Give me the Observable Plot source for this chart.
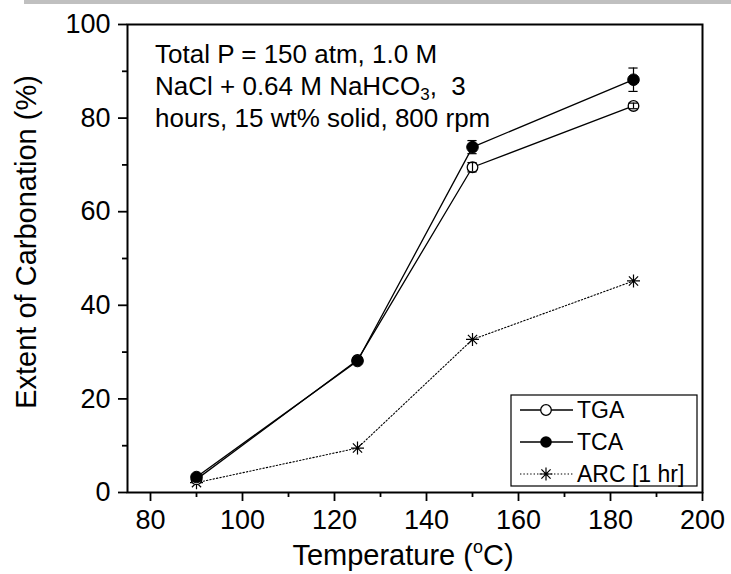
<!DOCTYPE html>
<html><head><meta charset="utf-8">
<script src="https://cdn.jsdelivr.net/npm/d3@7"></script>
<script src="https://cdn.jsdelivr.net/npm/@observablehq/plot@0.6"></script>
<style>
body{margin:0;background:#fff;}
#wrap{position:relative;width:731px;height:574px;overflow:hidden;background:#fff;font-family:"Liberation Sans",Arial,sans-serif;}
#wrap > svg{position:absolute;left:0;top:0;}
#bar{position:absolute;left:24px;top:0;width:707px;height:4px;background:#c0c0c0;}
</style></head>
<body><div id="wrap"><div id="bar"></div></div>
<script>
// ---- data ----
const temperature = [90, 125, 150, 185];
const tgaValues = [2.8, 28.3, 69.5, 82.6];
const tgaErrors = [0.3, 0.4, 1.0, 0.6];
const tcaValues = [3.3, 28.1, 73.8, 88.2];
const tcaErrors = [0.4, 0.5, 1.4, 2.5];
const arcValues = [2.1, 9.5, 32.7, 45.2];
const seriesNames = ["TGA", "TCA", "ARC [1 hr]"];
const xTicks = [80, 100, 120, 140, 160, 180, 200];
const xMinorTicks = [90, 110, 130, 150, 170, 190];
const yTicks = [0, 20, 40, 60, 80, 100];
const yMinorTicks = [10, 30, 50, 70, 90];
const noteLines = ["Total P = 150 atm, 1.0 M", "NaCl + 0.64 M NaHCO", "hours, 15 wt% solid, 800 rpm"];
const xTitle = "Temperature (";
const yTitle = "Extent of Carbonation (%)";

// ---- rows ----
const tga = temperature.map((t, i) => ({t, v: tgaValues[i], e: tgaErrors[i]}));
const tca = temperature.map((t, i) => ({t, v: tcaValues[i], e: tcaErrors[i]}));
const arc = temperature.map((t, i) => ({t, v: arcValues[i]}));

const asterisk = {
  draw(ctx, size) {
    const r = Math.sqrt(size / Math.PI);
    const d = r * Math.SQRT1_2;
    ctx.moveTo(0, -r); ctx.lineTo(0, r);
    ctx.moveTo(-r, 0); ctx.lineTo(r, 0);
    ctx.moveTo(-d, -d); ctx.lineTo(d, d);
    ctx.moveTo(-d, d); ctx.lineTo(d, -d);
  }
};

const errMarks = (data) => [
  Plot.ruleX(data, {x: "t", y1: d => d.v - d.e, y2: d => d.v + d.e, stroke: "#000", strokeWidth: 1.2}),
  Plot.ruleY(data, {y: d => d.v + d.e, x1: d => d.t - 1, x2: d => d.t + 1, stroke: "#000", strokeWidth: 1.2}),
  Plot.ruleY(data, {y: d => d.v - d.e, x1: d => d.t - 1, x2: d => d.t + 1, stroke: "#000", strokeWidth: 1.2})
];

const plot = Plot.plot({
  width: 731, height: 574,
  marginLeft: 127, marginRight: 29, marginTop: 24, marginBottom: 82,
  x: {domain: [75, 200]},
  y: {domain: [0, 100]},
  style: {fontFamily: "Liberation Sans, Arial, sans-serif", fontSize: "27px", color: "#000", background: "transparent", overflow: "visible"},
  marks: [
    Plot.axisX({ticks: xTicks, tickSize: 9, tickPadding: 8, tickFormat: d => d, label: null, fontSize: 27, strokeWidth: 1.8}),
    Plot.axisX({ticks: xMinorTicks, tickSize: 5, text: null, label: null, strokeWidth: 1.8}),
    Plot.axisY({ticks: yTicks, tickSize: 9, tickPadding: 8, tickFormat: d => d, label: null, fontSize: 27, strokeWidth: 1.8}),
    Plot.axisY({ticks: yMinorTicks, tickSize: 5, text: null, label: null, strokeWidth: 1.8}),
    Plot.line(arc, {x: "t", y: "v", stroke: "#000", strokeWidth: 1.1, strokeDasharray: "1.4,2"}),
    Plot.line(tga, {x: "t", y: "v", stroke: "#000", strokeWidth: 1.3}),
    Plot.line(tca, {x: "t", y: "v", stroke: "#000", strokeWidth: 1.3}),
    Plot.dot(arc, {x: "t", y: "v", symbol: asterisk, r: 6.5, stroke: "#000", strokeWidth: 1.2, fill: "none"}),
    Plot.dot(tga, {x: "t", y: "v", r: 5.3, fill: "#fff", stroke: "#000", strokeWidth: 1.3}),
    ...errMarks(tga),
    Plot.dot(tca, {x: "t", y: "v", r: 5.8, fill: "#000", stroke: "#000", strokeWidth: 1}),
    ...errMarks(tca),
    Plot.frame({stroke: "#000", strokeWidth: 2})
  ]
});
const wrap = document.getElementById("wrap");
wrap.appendChild(plot);

// ---- overlay: annotation, legend, axis titles ----
const ov = d3.select(wrap).append("svg")
  .attr("width", 731).attr("height", 574)
  .style("font-family", "Liberation Sans, Arial, sans-serif")
  .style("pointer-events", "none");

ov.append("text").attr("x", 155).attr("y", 63).attr("font-size", 26).attr("fill", "#000").text(noteLines[0]);
const n2 = ov.append("text").attr("x", 155).attr("y", 95).attr("font-size", 26).attr("fill", "#000").style("white-space", "pre");
n2.append("tspan").text(noteLines[1]);
n2.append("tspan").attr("font-size", 17).attr("dy", 5).text("3");
n2.append("tspan").attr("dy", -5).text(",  3");
ov.append("text").attr("x", 155).attr("y", 127).attr("font-size", 26).attr("fill", "#000").text(noteLines[2]);

// legend
const lg = ov.append("g");
lg.append("rect").attr("x", 511).attr("y", 395).attr("width", 186).attr("height", 91)
  .attr("fill", "#fff").attr("stroke", "#000").attr("stroke-width", 1.2);
const rowsY = [410, 442, 474];
seriesNames.forEach((name, i) => {
  const y = rowsY[i];
  lg.append("line").attr("x1", 520).attr("x2", 573).attr("y1", y).attr("y2", y)
    .attr("stroke", "#000").attr("stroke-width", i === 2 ? 1.1 : 1.3)
    .attr("stroke-dasharray", i === 2 ? "1.4,2" : null);
  if (i === 0) lg.append("circle").attr("cx", 546).attr("cy", y).attr("r", 5.3).attr("fill", "#fff").attr("stroke", "#000").attr("stroke-width", 1.3);
  if (i === 1) lg.append("circle").attr("cx", 546).attr("cy", y).attr("r", 5.8).attr("fill", "#000");
  if (i === 2) lg.append("path").attr("transform", `translate(546,${y})`)
    .attr("d", d3.symbol(asterisk, Math.PI * 6.5 * 6.5)()).attr("stroke", "#000").attr("stroke-width", 1.2).attr("fill", "none");
  lg.append("text").attr("x", 577).attr("y", y + 8).attr("font-size", 23).attr("fill", "#000").text(name);
});

// axis titles
const xt = ov.append("text").attr("x", 403).attr("y", 565).attr("text-anchor", "middle").attr("font-size", 29).attr("fill", "#000");
xt.append("tspan").text(xTitle);
xt.append("tspan").attr("font-size", 18).attr("dy", -12).text("o");
xt.append("tspan").attr("dy", 12).text("C)");

ov.append("text").attr("transform", "translate(36,242) rotate(-90)").attr("text-anchor", "middle")
  .attr("font-size", 29).attr("fill", "#000").text(yTitle);
</script>
</body></html>
